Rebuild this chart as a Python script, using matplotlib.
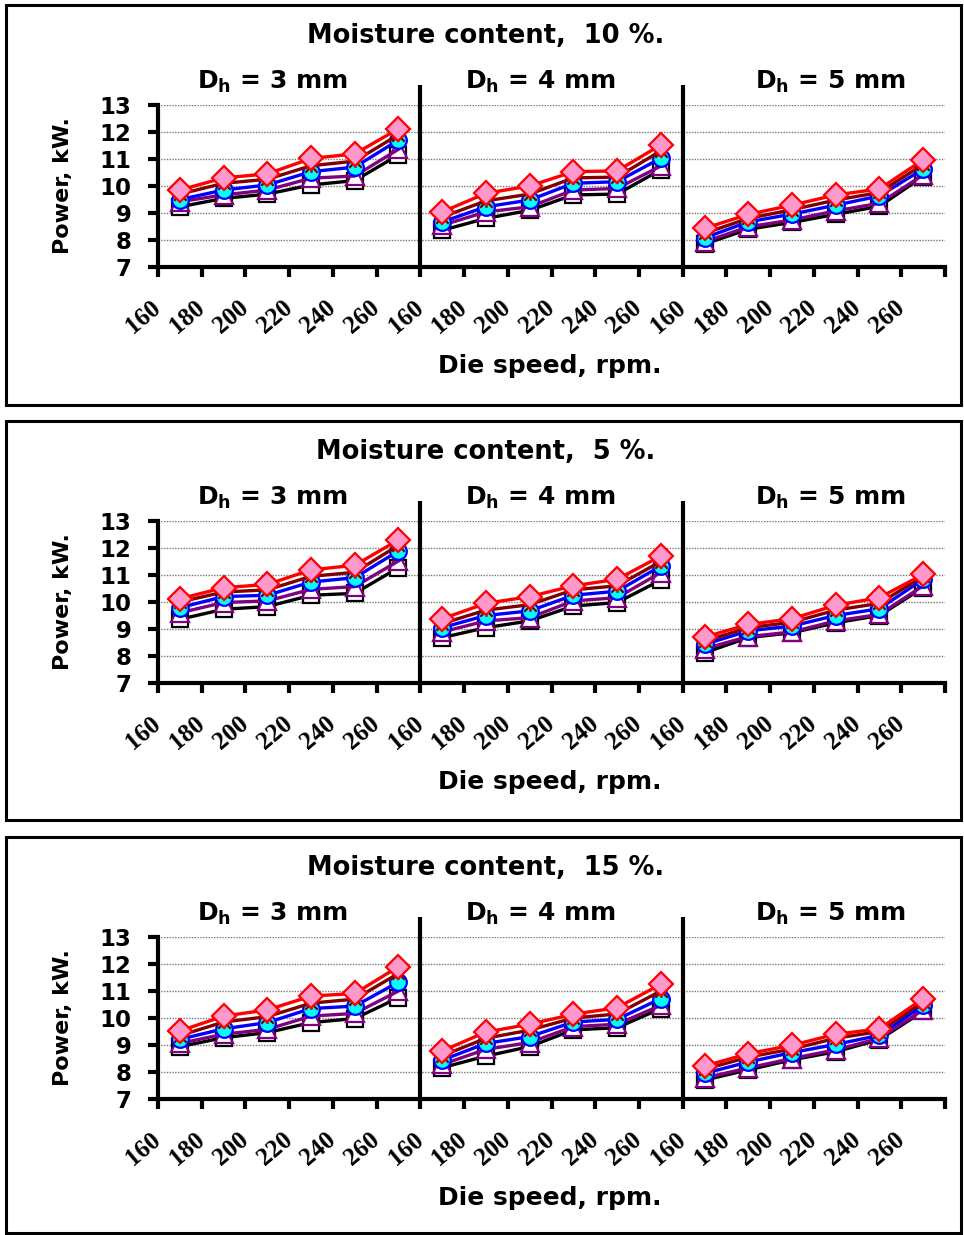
import numpy as np
import matplotlib
matplotlib.use("Agg")
import matplotlib.pyplot as plt
from matplotlib.path import Path
from matplotlib.patches import Rectangle

plt.rcParams['font.family'] = ['DejaVu Sans']
plt.rcParams['mathtext.default'] = 'regular'

# ---- data ----
speed_labels = [160, 180, 200, 220, 240, 260]
hole_sizes = [3, 4, 5]
moistures = [10, 5, 15]          # order of panels, top to bottom

# each series: three rows (Dh = 3, 4, 5 mm), six die speeds each
mc10_diamond = [[9.85, 10.30, 10.45, 11.02, 11.19, 12.12],
                [9.04, 9.73, 10.00, 10.53, 10.56, 11.52],
                [8.43, 8.95, 9.29, 9.67, 9.89, 10.97]]
mc10_star = [[9.70, 10.10, 10.25, 10.75, 10.92, 11.90],
             [8.85, 9.45, 9.70, 10.30, 10.33, 11.30],
             [8.25, 8.80, 9.12, 9.48, 9.76, 10.80]]
mc10_circle = [[9.50, 9.85, 10.04, 10.53, 10.70, 11.70],
               [8.67, 9.23, 9.48, 10.10, 10.16, 11.03],
               [8.08, 8.67, 8.96, 9.29, 9.63, 10.63]]
mc10_triangle = [[9.42, 9.67, 9.85, 10.29, 10.37, 11.36],
                 [8.55, 9.04, 9.23, 9.85, 9.91, 10.74],
                 [7.93, 8.49, 8.74, 9.08, 9.36, 10.41]]
mc10_square = [[9.23, 9.54, 9.70, 10.04, 10.20, 11.15],
               [8.36, 8.80, 9.10, 9.67, 9.70, 10.60],
               [7.85, 8.40, 8.65, 8.95, 9.25, 10.35]]

mc5_diamond = [[10.12, 10.53, 10.65, 11.19, 11.36, 12.30],
               [9.38, 9.95, 10.20, 10.60, 10.84, 11.70],
               [8.70, 9.17, 9.38, 9.88, 10.16, 11.02]]
mc5_star = [[10.00, 10.37, 10.45, 10.95, 11.10, 12.10],
            [9.20, 9.70, 9.90, 10.45, 10.60, 11.50],
            [8.55, 9.05, 9.25, 9.70, 9.95, 10.95]]
mc5_circle = [[9.79, 10.20, 10.25, 10.74, 10.90, 11.89],
              [9.05, 9.50, 9.67, 10.25, 10.40, 11.33],
              [8.43, 8.93, 9.11, 9.50, 9.75, 10.84]]
mc5_triangle = [[9.60, 9.98, 10.04, 10.47, 10.57, 11.52],
                [8.89, 9.30, 9.42, 10.04, 10.16, 11.09],
                [8.27, 8.72, 8.89, 9.30, 9.54, 10.60]]
mc5_square = [[9.36, 9.73, 9.83, 10.25, 10.32, 11.27],
              [8.68, 9.05, 9.30, 9.85, 9.98, 10.81],
              [8.12, 8.68, 8.86, 9.23, 9.50, 10.53]]

mc15_diamond = [[9.52, 10.07, 10.30, 10.81, 10.91, 11.90],
                [8.78, 9.48, 9.77, 10.14, 10.38, 11.25],
                [8.22, 8.68, 8.99, 9.40, 9.60, 10.72]]
mc15_star = [[9.35, 9.85, 10.05, 10.55, 10.70, 11.65],
             [8.60, 9.25, 9.55, 10.00, 10.15, 11.00],
             [8.10, 8.55, 8.85, 9.25, 9.50, 10.60]]
mc15_circle = [[9.21, 9.60, 9.83, 10.35, 10.44, 11.33],
               [8.44, 9.06, 9.31, 9.85, 9.95, 10.72],
               [7.95, 8.37, 8.72, 9.02, 9.36, 10.47]]
mc15_triangle = [[9.06, 9.40, 9.58, 10.07, 10.17, 11.00],
                 [8.28, 8.84, 9.09, 9.68, 9.77, 10.47],
                 [7.78, 8.15, 8.50, 8.82, 9.25, 10.30]]
mc15_square = [[8.94, 9.27, 9.46, 9.83, 9.98, 10.75],
               [8.16, 8.59, 8.94, 9.56, 9.64, 10.35],
               [7.70, 8.08, 8.45, 8.75, 9.20, 10.25]]

panels = [
    (mc10_square, mc10_triangle, mc10_circle, mc10_star, mc10_diamond),
    (mc5_square, mc5_triangle, mc5_circle, mc5_star, mc5_diamond),
    (mc15_square, mc15_triangle, mc15_circle, mc15_star, mc15_diamond),
]

# excel-like "star" marker: an x with a vertical stroke
star = Path([(-1, -1), (1, 1), (-1, 1), (1, -1), (0, -1), (0, 1)],
            [Path.MOVETO, Path.LINETO, Path.MOVETO, Path.LINETO,
             Path.MOVETO, Path.LINETO])

styles = [
    dict(color='black', marker='s', ms=11, mfc='white', mec='black', mew=1.6),
    dict(color='#800080', marker='^', ms=13, mfc='none', mec='#800080', mew=1.6),
    dict(color='#0000FF', marker='o', ms=12, mfc='#00FFFF', mec='#0000FF', mew=1.6),
    dict(color='#800000', marker=star, ms=9, mfc='none', mec='#800000', mew=1.6),
    dict(color='#FF0000', marker='D', ms=12, mfc='#FF99CC', mec='#FF0000', mew=1.6),
]

W, H = 964, 1235
fig = plt.figure(figsize=(W / 100, H / 100), dpi=100)


def fig_box(l, t, r, b):
    return [l / W, 1 - b / H, (r - l) / W, (b - t) / H]


panel_tops = [0, 416, 832]
box_bounds = [(6, 5, 961, 405), (6, 421, 961, 820), (6, 837, 961, 1233)]
sub_x = [2.61, 8.74, 15.39]
ngrp = len(speed_labels)
ncat = ngrp * len(hole_sizes)

for p, (series, mc) in enumerate(zip(panels, moistures)):
    dy = panel_tops[p]
    l, t, r, b = box_bounds[p]
    fig.patches.append(Rectangle((l / W, 1 - b / H), (r - l) / W, (b - t) / H,
                                 transform=fig.transFigure, fill=False,
                                 ec='black', lw=2.2))

    ax = fig.add_axes(fig_box(158, 105 + dy, 945, 267 + dy))
    for g in range(len(hole_sizes)):
        x = np.arange(ngrp) + 0.5 + g * ngrp
        for s, st in zip(series, styles):
            ax.plot(x, s[g], lw=2.4, zorder=3, clip_on=False, **st)

    for sep in (ngrp, 2 * ngrp):
        ax.plot([sep, sep], [7, 13.75], color='black', lw=3, clip_on=False,
                zorder=4, solid_capstyle='butt')

    ax.set_xlim(0, ncat)
    ax.set_ylim(7, 13)
    ax.set_yticks(range(7, 14))
    ax.set_yticklabels([str(v) for v in range(7, 14)], fontsize=16.5,
                       fontweight='bold')
    ax.set_xticks(range(ncat + 1))
    ax.set_xticklabels([str(v) for v in speed_labels * len(hole_sizes)] + [''],
                       rotation=40, ha='right', va='center',
                       rotation_mode='anchor', fontsize=18, fontweight='bold',
                       family='Liberation Serif')
    ax.tick_params(axis='x', length=7, width=3, direction='out', pad=20)
    ax.tick_params(axis='y', length=7, width=3, direction='out', pad=12)
    for v in range(8, 14):
        ax.axhline(v, color='#777777', lw=1, ls=(0, (1, 1)), zorder=1)
    for side in ('top', 'right'):
        ax.spines[side].set_visible(False)
    for side in ('left', 'bottom'):
        ax.spines[side].set_linewidth(3)

    ax.set_ylabel('Power, kW.', fontsize=16, fontweight='bold')
    ax.yaxis.set_label_coords(-0.108, 0.5)

    for g, d in enumerate(hole_sizes):
        ax.text(sub_x[g], 13.85, 'D$_{\\mathregular{h}}$ = %d mm' % d,
                ha='center', va='center', fontsize=18, fontweight='bold')

    fig.text(486 / W, 1 - (36 + dy) / H, 'Moisture content,  %d %%.' % mc,
             ha='center', va='center', fontsize=18.5, fontweight='bold')
    fig.text(550 / W, 1 - (366 + dy) / H, 'Die speed, rpm.',
             ha='center', va='center', fontsize=18, fontweight='bold')

fig.savefig('out.png', dpi=100)
